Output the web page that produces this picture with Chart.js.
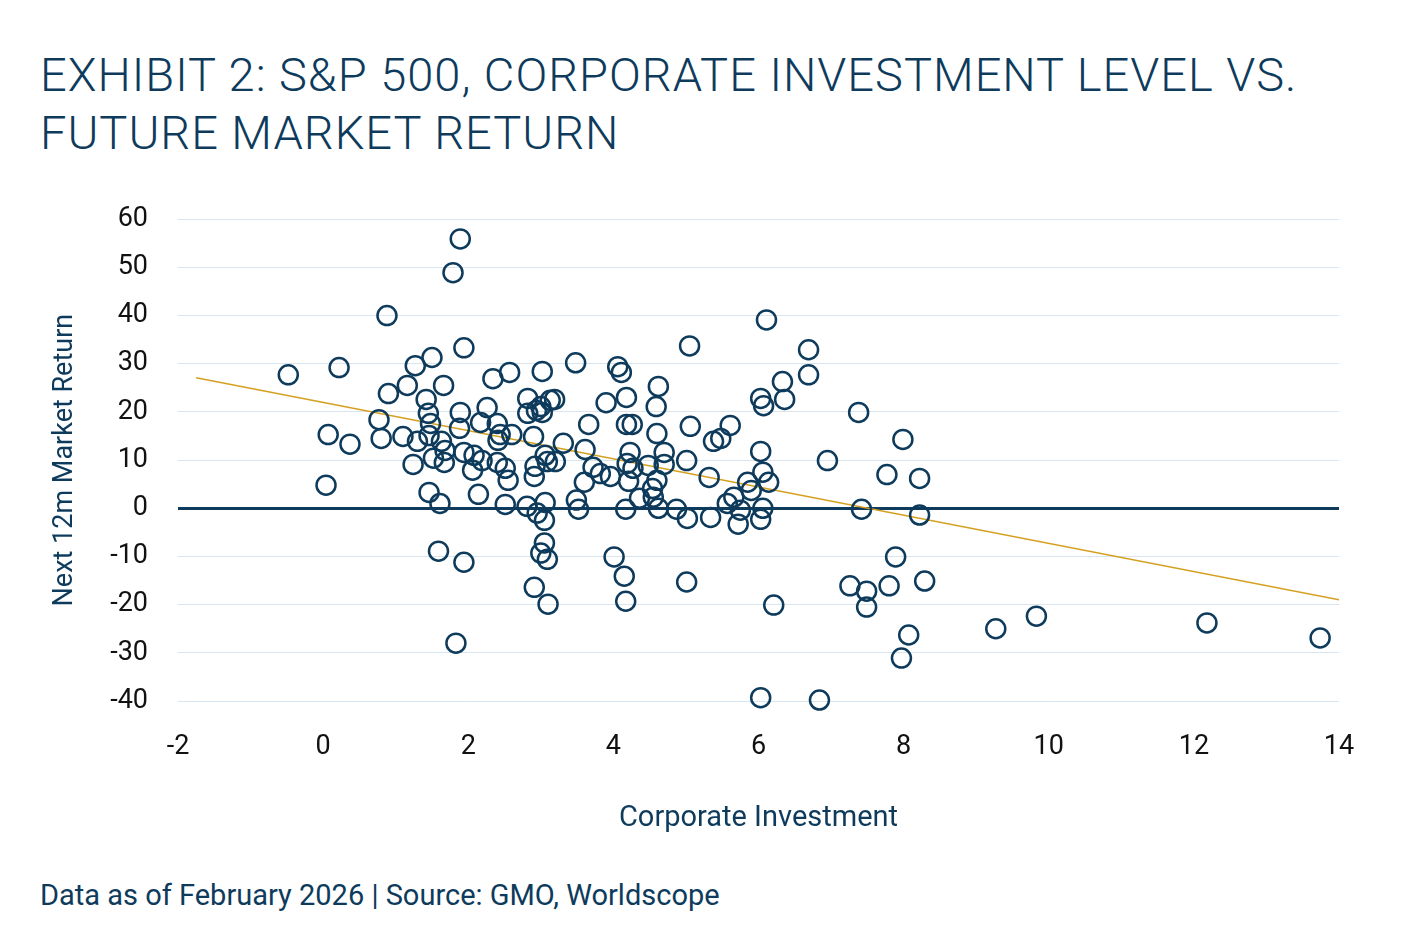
<!DOCTYPE html>
<html><head><meta charset="utf-8">
<script src="https://cdn.jsdelivr.net/npm/chart.js@4"></script>
<style>
body{margin:0;width:1401px;height:938px;background:#fff;position:relative;font-family:Roboto,sans-serif;color:#0e3b5c;overflow:hidden}
#title{position:absolute;left:40px;top:46px;font-size:47px;font-weight:300;line-height:58px;letter-spacing:1px;white-space:nowrap}
#foot{position:absolute;left:40px;top:878px;font-size:29px;white-space:nowrap}
#wrap{position:absolute;left:0;top:173px;width:1401px;height:667px}
</style></head><body>
<div id="title">EXHIBIT 2: S&amp;P 500, CORPORATE INVESTMENT LEVEL VS.<br>FUTURE MARKET RETURN</div>
<div id="wrap"><canvas id="c"></canvas></div>
<div id="foot">Data as of February 2026 | Source: GMO, Worldscope</div>
<script>
const investment=[-0.48,0.22,0.07,0.04,0.37,0.88,0.9,0.77,0.8,1.16,1.27,1.1,1.3,1.24,1.5,1.42,1.45,1.48,1.46,1.52,1.46,1.61,1.66,1.63,1.68,1.67,1.59,1.79,1.89,1.83,1.94,1.89,1.88,1.94,1.94,2.08,2.06,2.14,2.17,2.26,2.19,2.34,2.4,2.41,2.44,2.4,2.51,2.57,2.55,2.51,2.6,2.82,2.82,2.9,2.94,3.0,3.02,3.02,2.92,2.91,3.06,3.09,3.19,3.13,3.2,2.81,2.95,3.05,3.06,3.05,3.0,3.09,2.91,3.1,3.31,3.48,3.66,3.61,3.49,3.52,3.6,3.72,3.82,3.9,3.96,4.06,4.11,4.01,4.15,4.17,4.18,4.18,4.26,4.23,4.17,4.21,4.27,4.19,4.36,4.48,4.54,4.55,4.6,4.6,4.59,4.62,4.62,4.7,4.7,4.87,5.01,5.02,5.01,5.05,5.06,5.32,5.34,5.38,5.48,5.61,5.57,5.66,5.75,5.72,5.85,5.9,6.03,6.07,6.03,6.06,6.14,6.06,6.03,6.11,6.03,6.21,6.33,6.36,6.69,6.69,6.84,6.95,7.26,7.38,7.42,7.49,7.49,7.77,7.8,7.89,7.99,7.97,8.07,8.22,8.22,8.29,9.27,9.83,12.18,13.74];
const nextReturn=[27.7,29.2,15.3,4.8,13.3,40,23.8,18.4,14.5,25.5,29.6,14.9,13.9,9.1,31.3,22.6,19.7,17.6,15.1,10.4,3.3,1,25.5,13.9,12,9.5,-8.9,48.9,55.9,-28,33.3,19.9,16.6,11.6,-11.2,11,7.9,2.9,17.8,20.9,9.9,26.9,17.6,14.1,15.3,9.5,8.3,28.2,5.8,0.8,15.3,22.8,19.7,14.9,20.3,21.1,28.4,19.9,8.7,6.6,11,9.7,22.6,22.4,9.7,0.4,-1,-2.5,1.2,-7.2,-9.3,-10.6,-16.4,-19.9,13.5,30.2,17.4,12.2,1.7,-0.2,5.4,8.5,7.2,21.9,6.6,29.4,28.2,-10.1,-14.1,-19.3,23,17.4,17.4,11.6,-0.2,5.6,8.3,9.3,2.1,8.9,4.1,2.3,5.8,15.5,21.1,25.3,0,11.6,9.1,-0.2,9.9,-2.1,-15.3,33.7,17,6.4,-1.9,13.9,14.5,17.2,1,2.3,-0.4,-3.3,5.4,3.7,22.8,21.3,11.8,7.5,5.4,0,-2.3,39.1,-39.3,-20.1,26.3,22.6,32.9,27.7,-39.8,9.9,-16.1,19.9,-0.2,-17.2,-20.5,7,-16.1,-10.1,14.3,-31.1,-26.3,6.2,-1.4,-15.1,-25,-22.4,-23.8,-26.9];
const trendX=[-1.75,14];
const trendY=[27.1,-19.0];
const xTicks=[-2,0,2,4,6,8,10,12,14];
const yTicks=[-40,-30,-20,-10,0,10,20,30,40,50,60];
const navy='#0e3b5c';
new Chart(document.getElementById('c'),{
 type:'scatter',
 data:{datasets:[
  {data:investment.map((x,i)=>({x,y:nextReturn[i]})),pointRadius:9.5,pointBorderWidth:2.5,pointBorderColor:navy,pointBackgroundColor:'rgba(255,255,255,0)',clip:false,order:1},
  {type:'line',data:trendX.map((x,i)=>({x,y:trendY[i]})),borderColor:'#d4a020',borderWidth:1.5,pointRadius:0,order:2}
 ]},
 options:{responsive:true,maintainAspectRatio:false,animation:false,
  layout:{padding:{top:18,right:62,left:45,bottom:0}},
  plugins:{legend:{display:false},tooltip:{enabled:false}},
  scales:{
   x:{type:'linear',min:-2,max:14,afterBuildTicks:s=>{s.ticks=xTicks.map(v=>({value:v}))},
    grid:{display:false},border:{display:false},
    ticks:{color:'#111',font:{family:'Roboto',size:27},padding:22},
    title:{display:true,text:'Corporate Investment',color:navy,font:{family:'Roboto',size:29},padding:{top:8}},
    afterFit:s=>{s.height=139}},
   y:{min:-40,max:60,afterBuildTicks:s=>{s.ticks=yTicks.map(v=>({value:v}))},
    grid:{color:c=>c.tick.value===0?navy:'#d8e5ee',lineWidth:c=>c.tick.value===0?3:1,drawTicks:false},
    border:{display:false},
    ticks:{color:'#111',font:{family:'Roboto',size:27},padding:30},
    title:{display:true,text:'Next 12m Market Return',color:navy,font:{family:'Roboto',size:27},padding:{bottom:4}},
    afterFit:s=>{s.width=133}}
  }}
});
</script></body></html>
